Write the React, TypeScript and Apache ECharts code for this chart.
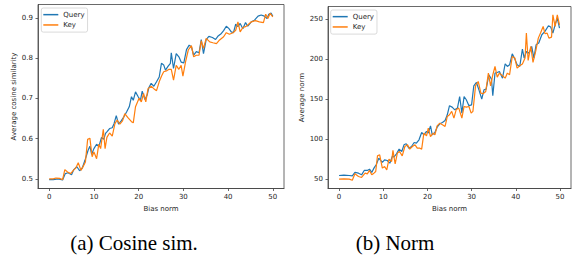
import React, { useEffect, useRef } from "react";
import * as echarts from "echarts";

const seriesNames = ["Query", "Key"];
const xTicks = [0, 10, 20, 30, 40, 50];
const cosTicks = [0.5, 0.6, 0.7, 0.8, 0.9];
const normTicks = [50, 100, 150, 200, 250];
const captions = ["(a) Cosine sim.", "(b) Norm"];

const cosQuery: number[][] = [
  [0, 0.498], [0.9, 0.498], [2, 0.5], [3, 0.497], [3.6, 0.513], [4.2, 0.515], [5, 0.51], [5.5, 0.523],
  [6.2, 0.53], [6.8, 0.52], [7.4, 0.527], [8, 0.546], [8.7, 0.571], [9.1, 0.581], [9.5, 0.561], [10, 0.575],
  [10.6, 0.586], [11.1, 0.58], [11.7, 0.603], [12.2, 0.598], [12.6, 0.613], [13, 0.618], [13.5, 0.625],
  [14.1, 0.627], [14.5, 0.637], [15, 0.657], [15.5, 0.636], [16.1, 0.644], [16.7, 0.654], [17.3, 0.666],
  [17.9, 0.679], [18.4, 0.704], [18.8, 0.695], [19.3, 0.716], [19.9, 0.704], [20.4, 0.695], [20.8, 0.718],
  [21.4, 0.697], [21.9, 0.708], [22.3, 0.727], [22.8, 0.737], [23.4, 0.73], [24, 0.741], [24.6, 0.753],
  [25.1, 0.787], [25.6, 0.783], [26, 0.77], [26.6, 0.78], [27.1, 0.787], [27.3, 0.813], [27.8, 0.774],
  [28.4, 0.811], [29, 0.803], [29.5, 0.79], [30.1, 0.788], [30.7, 0.821], [31.3, 0.832], [31.8, 0.828],
  [32.3, 0.807], [32.9, 0.816], [33.5, 0.813], [34, 0.846], [34.5, 0.811], [35.1, 0.846], [35.7, 0.854],
  [36.5, 0.851], [37.2, 0.846], [37.7, 0.854], [38.5, 0.861], [39, 0.868], [39.6, 0.879], [40.2, 0.873],
  [40.7, 0.865], [41.2, 0.863], [41.7, 0.884], [42.2, 0.878], [42.7, 0.886], [43.3, 0.873], [43.9, 0.888],
  [44.4, 0.879], [45.2, 0.89], [45.9, 0.894], [46.7, 0.904], [47.4, 0.907], [48.1, 0.904], [48.7, 0.898],
  [49.1, 0.909], [49.6, 0.912], [50, 0.904],
];

const cosKey: number[][] = [
  [0, 0.5], [0.9, 0.5], [1.5, 0.502], [2.4, 0.501], [3, 0.498], [3.5, 0.523], [4.1, 0.517], [4.8, 0.513],
  [5.4, 0.521], [6, 0.528], [6.5, 0.54], [7.1, 0.521], [7.6, 0.531], [8.1, 0.542], [8.6, 0.598], [9.1, 0.601],
  [9.6, 0.555], [10, 0.567], [10.6, 0.55], [11.1, 0.586], [11.5, 0.575], [12.1, 0.623], [12.5, 0.575],
  [12.9, 0.603], [13.5, 0.614], [14.1, 0.606], [14.7, 0.637], [15.2, 0.646], [15.8, 0.636], [16.4, 0.644],
  [16.9, 0.662], [17.6, 0.652], [18.4, 0.642], [18.8, 0.639], [19.3, 0.679], [20.1, 0.7], [20.6, 0.691],
  [21.1, 0.712], [21.6, 0.691], [22.1, 0.724], [22.8, 0.73], [23.4, 0.724], [24, 0.719], [24.6, 0.741],
  [25.1, 0.755], [25.6, 0.766], [26.2, 0.768], [26.8, 0.772], [27.3, 0.772], [27.8, 0.745], [28.4, 0.782],
  [29, 0.772], [29.5, 0.782], [29.9, 0.755], [30.5, 0.791], [31.1, 0.82], [31.8, 0.831], [32.3, 0.803],
  [32.9, 0.807], [33.5, 0.807], [34, 0.843], [34.5, 0.824], [35.1, 0.849], [35.9, 0.84], [36.6, 0.838],
  [37.4, 0.836], [38.1, 0.845], [39, 0.853], [39.6, 0.863], [40.3, 0.859], [41.1, 0.863], [41.7, 0.869],
  [42.2, 0.89], [42.7, 0.865], [43.3, 0.876], [43.9, 0.878], [44.4, 0.882], [45.2, 0.89], [46.1, 0.893],
  [47, 0.89], [47.9, 0.888], [48.4, 0.909], [48.9, 0.898], [49.4, 0.911], [50, 0.902],
];

const normQuery: number[][] = [
  [0, 54.6], [1.1, 55], [2.3, 54.6], [3, 54.2], [3.6, 58.4], [4.4, 57.5], [5.1, 55.4], [5.7, 60.9],
  [6.4, 60.9], [6.9, 62.5], [7.4, 58.4], [7.9, 63.8], [8.4, 68], [9, 76.3], [9.8, 70.9], [10.3, 74.2],
  [10.9, 73.4], [11.5, 70], [12.1, 79.2], [12.4, 77.6], [13, 81.7], [13.6, 87.6], [14.2, 84.7], [14.7, 93],
  [15.2, 94.3], [15.8, 88.8], [16.4, 90.9], [17, 95.9], [17.5, 95.1], [18.1, 99.3], [18.7, 108.5],
  [19.2, 105.5], [19.8, 109.7], [20.2, 107.6], [20.7, 116.8], [21.1, 105.5], [21.7, 108.5], [22.2, 115.1],
  [22.8, 119.3], [23.4, 121], [24, 123.5], [24.5, 130.6], [25, 142], [25.6, 140.2], [26.2, 136.8],
  [26.8, 139], [27.3, 153.5], [27.8, 132.7], [28.3, 153.5], [28.8, 149.4], [29.4, 142], [30, 143.1],
  [30.5, 166.9], [31.1, 171.1], [31.7, 161.1], [32.3, 150.2], [32.8, 161.9], [33.3, 162.7], [33.9, 180.7],
  [34.5, 175.3], [34.8, 154.4], [35.3, 182.8], [35.8, 183.6], [36.3, 184.9], [37, 176.5], [37.6, 194.5],
  [38.1, 191.1], [38.6, 193.2], [39.2, 207], [39.8, 200.3], [40.3, 193.2], [40.9, 191.1], [41.5, 212.8],
  [41.9, 201.6], [42.4, 209.9], [43, 207.8], [43.6, 216.2], [44.1, 201.6], [44.6, 218.3], [45.2, 220.4],
  [45.9, 230.8], [46.6, 235], [47.4, 242.1], [47.9, 240.4], [48.4, 232.9], [48.9, 243.3], [49.4, 251.7],
  [49.9, 239.1],
];

const normKey: number[][] = [
  [0, 50], [1.1, 50.4], [2.3, 50], [3, 48.7], [3.6, 56.7], [4.4, 53.3], [5.1, 52.1], [5.9, 57.5],
  [6.4, 56.7], [6.9, 60.9], [7.4, 55.4], [7.9, 57.5], [8.3, 59.6], [8.7, 79.2], [9.2, 80.5], [9.8, 63.8],
  [10.3, 65.9], [10.8, 61.7], [11.3, 75.1], [11.9, 72.1], [12.2, 86], [12.7, 69.2], [13.2, 82.6],
  [13.7, 84.7], [14.3, 79.2], [14.9, 90.9], [15.5, 93], [16, 87.6], [16.6, 90.9], [17.2, 93], [17.7, 88.8],
  [18.3, 88.8], [18.7, 87.6], [19.2, 107.6], [19.8, 104.3], [20.2, 113.9], [20.7, 103.4], [21.3, 107.6],
  [21.7, 105.5], [22.2, 116.8], [22.8, 120.1], [23.4, 118.1], [24, 116], [24.5, 128.5], [25, 130.6],
  [25.5, 134.8], [26, 126.4], [26.5, 136.8], [27.1, 139], [27.8, 126.4], [28.3, 141], [28.8, 140.2],
  [29.4, 141], [29.9, 132.7], [30.3, 134.8], [30.9, 166.9], [31.5, 172.3], [32.1, 157.7], [32.6, 156.9],
  [33.2, 159.8], [33.8, 182.8], [34.3, 166.9], [34.8, 180.7], [35.3, 191.1], [35.8, 177.8], [36.3, 182.8],
  [37, 179.4], [37.6, 176.5], [38.1, 182.8], [38.6, 180.7], [39.2, 203.7], [39.8, 201.6], [40.3, 189],
  [40.9, 192], [41.5, 194.1], [42.1, 201.6], [42.4, 232.9], [42.8, 198.6], [43.4, 216.2], [43.9, 196.1],
  [44.5, 209.9], [45.1, 226.6], [45.6, 232.9], [46.2, 241.2], [46.6, 232.1], [47.1, 232.9], [47.5, 226.6],
  [48.1, 227.9], [48.4, 255.8], [48.9, 241.2], [49.4, 255.8], [49.9, 243.3],
];

const BLUE = "#1f77b4";
const ORANGE = "#ff7f0e";
const FONT = "DejaVu Sans";
const SPINE = "#444";
const TEXT = "#262626";

function xAxisCfg(gridIndex: number) {
  return {
    type: "value",
    gridIndex,
    min: -2.5,
    max: 52.5,
    name: "Bias norm",
    nameLocation: "middle",
    nameGap: 13,
    nameTextStyle: { fontFamily: FONT, fontSize: 7, color: TEXT },
    axisLine: { show: true, onZero: false, lineStyle: { color: SPINE, width: 0.8 } },
    axisTick: { show: true, inside: false, length: 2.5, customValues: xTicks, lineStyle: { color: SPINE, width: 0.8 } },
    axisLabel: { show: true, customValues: xTicks, margin: 5, fontFamily: FONT, fontSize: 7, color: TEXT },
    splitLine: { show: false },
  };
}

function yAxisCfg(gridIndex: number, min: number, max: number, ticks: number[], name: string, gap: number) {
  return {
    type: "value",
    gridIndex,
    min,
    max,
    name,
    nameLocation: "middle",
    nameGap: gap,
    nameTextStyle: { fontFamily: FONT, fontSize: 7, color: TEXT },
    axisLine: { show: true, onZero: false, lineStyle: { color: SPINE, width: 0.8 } },
    axisTick: { show: true, inside: false, length: 2.5, customValues: ticks, lineStyle: { color: SPINE, width: 0.8 } },
    axisLabel: { show: true, customValues: ticks, margin: 5, fontFamily: FONT, fontSize: 7, color: TEXT },
    splitLine: { show: false },
  };
}

function lineSeries(name: string, data: number[][], color: string, idx: number) {
  return {
    type: "line",
    name,
    xAxisIndex: idx,
    yAxisIndex: idx,
    data,
    symbol: "none",
    lineStyle: { color, width: 1.2 },
    itemStyle: { color },
    z: name === "Key" ? 3 : 2,
  };
}

function legendCfg(left: number, top: number) {
  return {
    left,
    top,
    orient: "vertical",
    data: seriesNames.map((n, i) => ({ name: n, itemStyle: { color: i === 0 ? BLUE : ORANGE } })),
    icon: "rect",
    itemWidth: 15,
    itemHeight: 1.5,
    itemGap: 2,
    padding: [2.5, 3, 3, 2],
    textStyle: { fontFamily: FONT, fontSize: 7, color: TEXT, lineHeight: 8.3 },
    backgroundColor: "rgba(255,255,255,0.8)",
    borderColor: "#d0d0d0",
    borderWidth: 0.8,
    borderRadius: 2,
    selectedMode: false,
  };
}

export default function App() {
  const ref = useRef<HTMLDivElement>(null);
  useEffect(() => {
    if (!ref.current) return;
    const chart = echarts.init(ref.current, null, { renderer: "svg" });
    chart.setOption({
      animation: false,
      backgroundColor: "#ffffff",
      grid: [
        { left: 38, top: 4.5, width: 246, height: 184, show: true, borderColor: SPINE, borderWidth: 0.8, backgroundColor: "transparent" },
        { left: 328, top: 6.5, width: 243, height: 182, show: true, borderColor: SPINE, borderWidth: 0.8, backgroundColor: "transparent" },
      ],
      xAxis: [xAxisCfg(0), xAxisCfg(1)],
      yAxis: [
        yAxisCfg(0, 0.476, 0.933, cosTicks, "Average cosine similarity", 19),
        yAxisCfg(1, 38.3, 266.2, normTicks, "Average norm", 21),
      ],
      legend: [legendCfg(41.3, 8), legendCfg(330.7, 10)],
      series: [
        lineSeries(seriesNames[0], cosQuery, BLUE, 0),
        lineSeries(seriesNames[1], cosKey, ORANGE, 0),
        lineSeries(seriesNames[0], normQuery, BLUE, 1),
        lineSeries(seriesNames[1], normKey, ORANGE, 1),
      ],
      graphic: [
        {
          type: "text",
          x: 134,
          y: 242.5,
          style: { text: captions[0], fontFamily: "Liberation Serif", fontSize: 21, fill: "#000", align: "center", verticalAlign: "middle" },
        },
        {
          type: "text",
          x: 395,
          y: 242.5,
          style: { text: captions[1], fontFamily: "Liberation Serif", fontSize: 21, fill: "#000", align: "center", verticalAlign: "middle" },
        },
      ],
    });
    return () => chart.dispose();
  }, []);
  return (
    <div
      ref={ref}
      style={{ position: "fixed", left: 0, top: 0, width: 574, height: 255, background: "#fff" }}
    />
  );
}
